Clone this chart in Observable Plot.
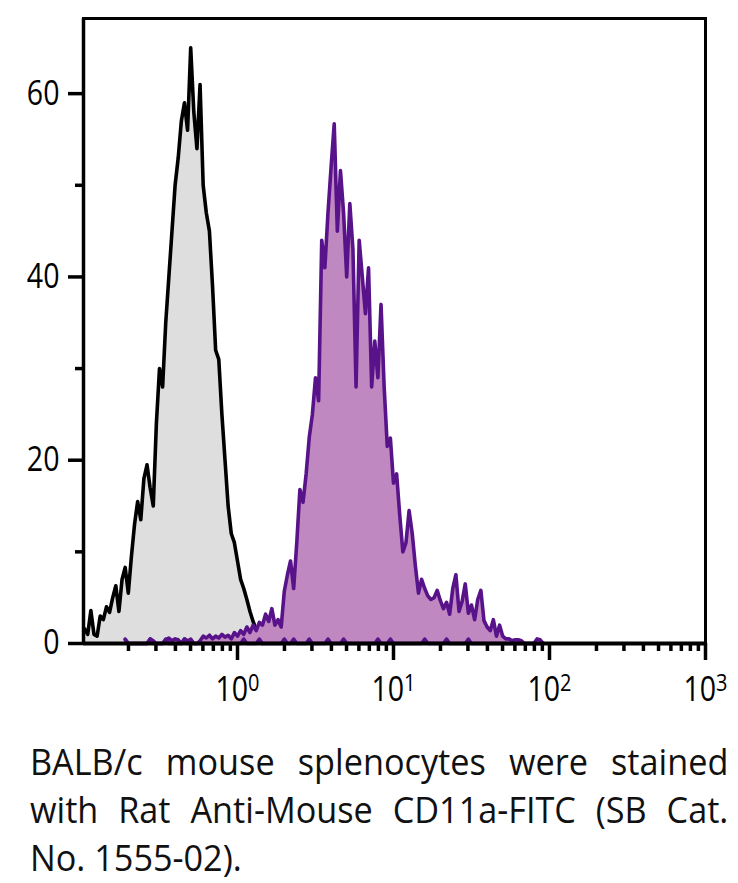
<!DOCTYPE html>
<html>
<head>
<meta charset="utf-8">
<script src="https://cdn.jsdelivr.net/npm/d3@7"></script>
<script src="https://cdn.jsdelivr.net/npm/@observablehq/plot@0.6"></script>
<style>
  body { margin: 0; background: #fff; font-family: "Open Sans", sans-serif; overflow: hidden; }
  #chart { width: 738px; height: 720px; }
  #chart svg { overflow: visible; }
  .caption { margin: 17px 0 0 30px; width: 698px; font-size: 37px; line-height: 48px; color: #111; }
  .caption div { width: 755px; transform: scaleX(0.925); transform-origin: 0 0; }
  .caption .j { text-align: justify; text-align-last: justify; }
</style>
</head>
<body>
<div id="chart"></div>
<div class="caption">
  <div class="j">BALB/c mouse splenocytes were stained</div>
  <div class="j">with Rat Anti-Mouse CD11a-FITC (SB Cat.</div>
  <div>No. 1555-02).</div>
</div>
<script>
// ---- data ----
// histogram channels: log10(intensity) start and step per channel
const grayLogStart = -0.98;
const purpleLogStart = -0.72;
const logStep = 0.02;

// isotype control (gray fill, black outline), % of max
const grayCounts = [
  1.6, 1.0, 3.6, 1.0, 0.8, 3.0, 2.6, 4.0, 3.4, 5.0,
  6.3, 3.5, 7.0, 8.3, 5.5, 9.5, 13, 15.5, 13.5, 18,
  19.5, 17, 15, 24, 30, 28, 35, 40, 45, 50,
  53, 57, 59, 56, 65, 58, 54, 61, 50, 47,
  45, 39, 32, 31, 25, 20, 15, 12, 11, 9,
  7, 6, 4.8, 3.5, 2.4, 1.5, 0.7, 0
];

// CD11a-FITC stained (purple)
const purpleCounts = [
  0.4, 0, 0, 0, 0, 0, 0, 0, 0.5, 0.3,
  0, 0, 0, 0.4, 0.6, 0.3, 0.5, 0.4, 0, 0.5,
  0.3, 0.4, 0, 0, 0.3, 0.8, 0.6, 0.9, 0.5, 0.8,
  0.6, 1.0, 0.7, 0.9, 0.5, 1.2, 0.8, 1.4, 1.0, 1.8,
  1.2, 2.0, 1.4, 2.3, 2.0, 3.2, 2.4, 3.8, 2.0, 2.6,
  1.8, 5.7, 7.5, 9.0, 6.0, 11.0, 16.8, 15.4, 18.5, 22.5,
  25.0, 29.0, 26.5, 44.0, 41.0, 47.0, 52.0, 56.7, 45.0, 51.6,
  47.0, 40.0, 48.0, 43.0, 28.0, 44.0, 40.0, 36.0, 41.0, 28.0,
  33.0, 29.0, 37.0, 28.0, 21.5, 22.4, 17.5, 18.5, 14.0, 10.0,
  11.0, 14.5, 12.0, 8.5, 5.5, 7.0, 6.0, 5.2, 4.8, 5.0,
  5.8, 4.7, 3.8, 4.5, 3.2, 6.0, 7.5, 3.5, 4.6, 6.5,
  3.3, 4.2, 2.6, 4.8, 5.8, 2.5, 1.8, 1.4, 2.6, 0.8,
  2.0, 0.8, 0.5, 0.5, 0.3, 0.4, 0.4, 0.3, 0, 0,
  0, 0, 0.5, 0.4, 0
];

// sparse single-event blips of the stained sample along the baseline
const purpleFloor = [
  0.5, 0, 0, 0, 0, 0, 0, 0, 0.5, 0,
  0, 0, 0, 0.5, 0, 0, 0, 0, 0, 0.5,
  0, 0.5, 0, 0, 0, 0, 0, 0, 0, 0,
  0, 0, 0, 0, 0, 0, 0, 0, 0.5, 0,
  0, 0, 0, 0.5, 0, 0, 0, 0, 0, 0,
  0, 0.5, 0, 0, 0.5, 0, 0, 0, 0, 0.5,
  0, 0, 0, 0, 0, 0.5, 0, 0, 0, 0,
  0.5, 0, 0, 0, 0, 0, 0, 0, 0, 0,
  0, 0.5, 0, 0, 0, 0.5, 0, 0, 0, 0,
  0, 0, 0, 0, 0, 0, 0.5, 0, 0, 0,
  0, 0, 0, 0.5, 0, 0, 0, 0, 0, 0,
  0.5, 0, 0, 0, 0, 0, 0, 0, 0, 0,
  0, 0, 0, 0, 0, 0, 0, 0, 0, 0,
  0, 0, 0, 0, 0
];

const xDomain = [0.103, 1000];
const yDomain = [0, 68.2];
const yMajor = [0, 20, 40, 60];
const yMinor = [10, 30, 50];
const xMajor = [1, 10, 100, 1000];
const xMinor = [0.2, 0.3, 0.4, 0.5, 0.6, 0.7, 0.8, 0.9,
                2, 3, 4, 5, 6, 7, 8, 9,
                20, 30, 40, 50, 60, 70, 80, 90,
                200, 300, 400, 500, 600, 700, 800, 900];

// ---- tables ----
const toTable = (counts, start) => counts.map((c, i) => ({x: Math.pow(10, start + i * logStep), y: c}));
const gray = toTable(grayCounts, grayLogStart);
const purple = toTable(purpleCounts, purpleLogStart);
const floor = toTable(purpleFloor, purpleLogStart);

const chart = Plot.plot({
  width: 738,
  height: 720,
  marginLeft: 83,
  marginRight: 33,
  marginTop: 18,
  marginBottom: 77,
  x: {type: "log", domain: xDomain},
  y: {domain: yDomain},
  style: {fontFamily: "Open Sans", fontSize: "34px", color: "#000", background: "#fff", overflow: "visible"},
  marks: [
    Plot.areaY(gray, {x: "x", y: "y", fill: "#dedede"}),
    Plot.lineY(gray, {x: "x", y: "y", stroke: "#000", strokeWidth: 3.6, strokeLinejoin: "round"}),
    Plot.areaY(purple, {x: "x", y: "y", fill: "#c088c0"}),
    Plot.lineY(purple, {x: "x", y: "y", stroke: "#58138a", strokeWidth: 3.6, strokeLinejoin: "round"}),
    Plot.lineY(floor, {x: "x", y: "y", stroke: "#58138a", strokeWidth: 3.4, strokeLinejoin: "round"}),
    Plot.frame({stroke: "#000", strokeWidth: 3}),
    Plot.ruleY([0], {stroke: "#000", strokeWidth: 4}),
    Plot.ruleX([xDomain[0]], {stroke: "#000", strokeWidth: 3.5}),
    Plot.axisY({ticks: yMajor, tickSize: 15, tickPadding: 9, strokeWidth: 3.5, label: null, fontSize: 34}),
    Plot.axisY({ticks: yMinor, tickSize: 8, tickFormat: () => "", strokeWidth: 3.5, label: null}),
    Plot.axisX({ticks: xMajor, tickSize: 17, tickPadding: 16, strokeWidth: 3.5, label: null, fontSize: 34,
                tickFormat: d => "10|" + Math.round(Math.log10(d))}),
    Plot.axisX({ticks: xMinor, tickSize: 8, tickFormat: () => "", strokeWidth: 3.5, label: null})
  ]
});

// superscript exponents on x tick labels
chart.querySelectorAll('g[aria-label="x-axis tick label"] text').forEach(t => {
  const s = t.textContent;
  if (!s.includes("|")) return;
  const [base, exp] = s.split("|");
  t.textContent = "";
  const b = document.createElementNS("http://www.w3.org/2000/svg", "tspan");
  b.textContent = base;
  const e = document.createElementNS("http://www.w3.org/2000/svg", "tspan");
  e.textContent = exp;
  e.setAttribute("dy", "-0.42em");
  e.setAttribute("font-size", "0.7em");
  t.appendChild(b);
  t.appendChild(e);
});
// condensed look for tick labels (scale horizontally about the anchor)
chart.querySelectorAll('g[aria-label="x-axis tick label"] text, g[aria-label="y-axis tick label"] text').forEach(t => {
  const tr = t.getAttribute("transform") || "";
  t.setAttribute("transform", tr + " scale(0.84,1)");
});

document.getElementById("chart").appendChild(chart);
</script>
</body>
</html>
